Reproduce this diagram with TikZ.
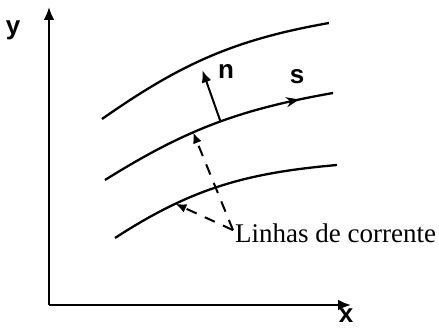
\documentclass[tikz,border=0pt]{standalone}
\usepackage{fontspec}
\setmainfont{Liberation Serif}
\setsansfont{Liberation Sans}
\usetikzlibrary{arrows.meta,decorations.markings}
\begin{document}
\begin{tikzpicture}[x=10pt, y=10pt, line width=2.3pt,
  axis/.style={-{Latex[length=13pt,width=11pt]}},
  guide/.style={line width=2pt, dash pattern=on 11pt off 9pt, -{Latex[length=11pt,width=9pt]}},
  letter/.style={font=\sffamily\bfseries\fontsize{26}{26}\selectfont, inner sep=0pt},
  along/.style={postaction={decorate}, decoration={markings, mark=at position #1 with {\arrow{Stealth[length=13pt,width=10pt]}}}}]
  \useasboundingbox (0,0) rectangle (43.9,32.9);
  \coordinate (o) at (4.9,2.4);
  \draw[axis] (o) -- (4.9,32.2) coordinate (ytip);
  \draw[axis] (o) -- (35.1,2.4) coordinate (xtip);
  \node[letter] (ylbl) at (1.3,29.9) {y};
  \node[letter] (xlbl) at (34.6,1.3) {x};
  \draw (10.2,21.0) to[out=35, in=190] (32.9,30.6);
  \draw[along=0.86] (10.5,14.9) to[out=32, in=190] coordinate[pos=0.4] (mid) coordinate[pos=0.53] (nfoot) (33.3,23.6);
  \draw (11.5,9.1) to[out=33, in=185] coordinate[pos=0.28] (low) (33.7,16.4);
  \draw[line width=2pt, -{Latex[length=12pt,width=10pt]}] (nfoot) -- ++(-1.8,5.1) coordinate (ntip);
  \node[letter] (nlbl) at (22.6,25.7) {n};
  \node[letter] (slbl) at (29.7,25.2) {s};
  \node[font=\fontsize{27}{27}\selectfont, anchor=base west, inner sep=0pt] (lines) at (23.4,8.6) {Linhas de corrente};
  \coordinate (src) at ([xshift=-1pt, yshift=-7pt]lines.north west);
  \draw[guide] (src) -- (mid);
  \draw[guide] (src) -- (low);
\end{tikzpicture}
\end{document}
